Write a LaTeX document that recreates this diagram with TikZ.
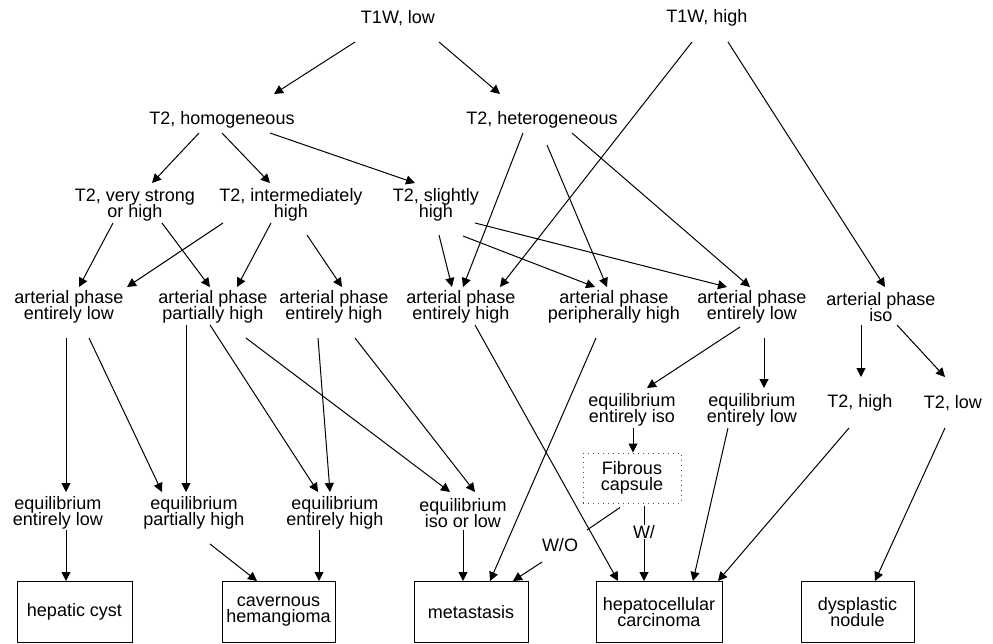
\documentclass[tikz,border=0pt]{standalone}
\usepackage{fontspec}
\setmainfont{Liberation Sans}
\usetikzlibrary{arrows.meta,calc}
\newcommand\lblfont{\fontsize{9}{8}\selectfont\lineskiplimit=-10pt\relax}
\tikzset{
  >={Triangle[length=4.5pt,width=4.5pt]},
  lbl/.style={align=center,inner sep=0pt,font=\lblfont},
  obox/.style={lbl,draw,line width=0.5pt,minimum height=30.5pt},
  cbox/.style={lbl,draw=black!70,dotted,line width=0.5pt,minimum width=49pt,minimum height=25pt},
  arr/.style={->,line width=0.5pt},
  lnk/.style={line width=0.5pt},
}
\begin{document}
\begin{tikzpicture}[x=0.5pt,y=-0.5pt]
  \useasboundingbox (0,0) rectangle (993,644);
  % T1W and T2
  \node[lbl] (t1low)  at (398,18)  {T1W, low};
  \node[lbl] (t1high) at (707,18)  {T1W, high};
  \node[lbl] (homo)   at (222,120) {T2, homogeneous};
  \node[lbl] (hetero) at (542,120) {T2, heterogeneous};
  \node[lbl] (vstrong) at (135,205) {T2, very strong\\or high};
  \node[lbl] (inter)   at (291,205) {T2, intermediately\\high};
  \node[lbl] (slight)  at (436,205) {T2, slightly\\high};
  % arterial phase
  \node[lbl] (aLow)   at (69,307)  {arterial phase\\entirely low};
  \node[lbl] (aPart)  at (213,307) {arterial phase\\partially high};
  \node[lbl] (aHigh)  at (334,307) {arterial phase\\entirely high};
  \node[lbl] (aHighB) at (461,307) {arterial phase\\entirely high};
  \node[lbl] (aPeri)  at (614,307) {arterial phase\\peripherally high};
  \node[lbl] (aLowB)  at (752,307) {arterial phase\\entirely low};
  \node[lbl] (aIso)   at (881,307) {arterial phase\\iso};
  % equilibrium
  \node[lbl] (eIso)   at (632,410) {equilibrium\\entirely iso};
  \node[lbl] (eLowB)  at (752,410) {equilibrium\\entirely low};
  \node[lbl] (t2high) at (860,403) {T2, high};
  \node[lbl] (t2low)  at (953,403) {T2, low};
  \node[cbox] (fib)   at (632,478) {Fibrous\\capsule};
  \node[lbl] (eLow)    at (58,513)  {equilibrium\\entirely low};
  \node[lbl] (ePart)   at (194,513) {equilibrium\\partially high};
  \node[lbl] (eHigh)   at (335,513) {equilibrium\\entirely high};
  \node[lbl] (eIsoLow) at (463,513) {equilibrium\\iso or low};
  \node[lbl] (wo) at (560,545) {W/O};
  \node[lbl] (w)  at (644,532) {W/};
  % diagnoses
  \node[obox,minimum width=57.5pt] (cyst) at (74.5,612)  {hepatic cyst};
  \node[obox,minimum width=56.5pt] (cav)  at (278.5,612) {cavernous\\hemangioma};
  \node[obox,minimum width=57pt]   (meta) at (471,612)   {metastasis};
  \node[obox,minimum width=63pt]   (hcc)  at (659,612)   {hepatocellular\\carcinoma};
  \node[obox,minimum width=56.5pt] (dys)  at (857.5,612) {dysplastic\\nodule};

  \draw[arr] ($(t1low)+(-43,24)$) -- ($(homo)+(52,-26)$);
  \draw[arr] ($(t1low)+(41,24)$) -- ($(hetero)+(-42,-26)$);
  \draw[arr] ($(t1high)+(-15,24)$) -- ($(aHighB)+(39,-20)$);
  \draw[arr] ($(t1high)+(21,24)$) -- ($(aIso)+(4,-20)$);
  \draw[arr] ($(homo)+(-23,13)$) -- ($(vstrong)+(17,-22)$);
  \draw[arr] ($(homo)+(0,13)$) -- ($(inter)+(-21,-22)$);
  \draw[arr] ($(homo)+(48,13)$) -- ($(slight)+(-21,-22)$);
  \draw[arr] ($(hetero)+(-19,13)$) -- ($(aHighB)+(2,-20)$);
  \draw[arr] ($(hetero)+(5,25)$) -- ($(aPeri)+(-7,-20)$);
  \draw[arr] ($(hetero)+(30,13)$) -- ($(aLowB)+(-2,-20)$);
  \draw[arr] ($(vstrong)+(-22,18)$) -- ($(aLow)+(10,-20)$);
  \draw[arr] ($(vstrong)+(27,18)$) -- ($(aPart)+(-3,-20)$);
  \draw[arr] ($(inter)+(-68,18)$) -- ($(aLow)+(58,-20)$);
  \draw[arr] ($(inter)+(-20,18)$) -- ($(aPart)+(24,-20)$);
  \draw[arr] ($(inter)+(16,30)$) -- ($(aHigh)+(8,-20)$);
  \draw[arr] ($(slight)+(3,30)$) -- ($(aHighB)+(-9,-20)$);
  \draw[arr] ($(slight)+(27,31)$) -- ($(aPeri)+(-19,-20)$);
  \draw[arr] ($(slight)+(39,18)$) -- ($(aLowB)+(-25,-20)$);

  \draw[arr] ($(aLow)+(-3,31)$) -- ($(eLow)+(8,-21)$);
  \draw[arr] ($(aLow)+(20,31)$) -- ($(ePart)+(-32,-21)$);
  \draw[arr] ($(aPart)+(-27,18)$) -- ($(ePart)+(-8,-21)$);
  \draw[arr] ($(aPart)+(-3,18)$) -- ($(eHigh)+(-17,-21)$);
  \draw[arr] ($(aPart)+(33,31)$) -- ($(eIsoLow)+(-13,-21)$);
  \draw[arr] ($(aHigh)+(-16,31)$) -- ($(eHigh)+(-5,-21)$);
  \draw[arr] ($(aHigh)+(21,31)$) -- ($(eIsoLow)+(12,-21)$);
  \draw[arr] ($(aHighB)+(14,18)$) -- ($(hcc.north)+(-41,0)$);
  \draw[arr] ($(aPeri)+(-18,31)$) -- ($(meta.north)+(19,0)$);
  \draw[arr] ($(aLowB)+(-12,20)$) -- ($(eIso)+(15,-22)$);
  \draw[arr] ($(aLowB)+(12,31)$) -- ($(eLowB)+(12,-22)$);
  \draw[arr] ($(aIso)+(-20,18)$) -- ($(t2high)+(1,-26)$);
  \draw[arr] ($(aIso)+(16,18)$) -- ($(t2low)+(-8,-26)$);

  \draw[arr] ($(eIso)+(1,18)$) -- ($(fib.north)+(1,0)$);
  \draw[lnk] ($(fib.south)+(12,2)$) -- (w.north);
  \draw[arr] (w.south) -- ($(hcc.north)+(-15,0)$);
  \draw[lnk] ($(fib.south)+(-12,4)$) -- ($(wo)+(27,-15)$);
  \draw[arr] ($(wo)+(-18,17)$) -- ($(meta.north)+(42,0)$);
  \draw[arr] ($(eLowB)+(-24,18)$) -- ($(hcc.north)+(34,0)$);
  \draw[arr] ($(t2high)+(-11,25)$) -- ($(hcc.north)+(59,0)$);
  \draw[arr] ($(t2low)+(-8,25)$) -- ($(dys.north)+(17.5,0)$);

  \draw[arr] ($(eLow)+(8,17)$) -- ($(cyst.north)+(-8.5,0)$);
  \draw[arr] ($(ePart)+(16,31)$) -- ($(cav.north)+(-21.5,0)$);
  \draw[arr] ($(eHigh)+(-16,17)$) -- ($(cav.north)+(40.5,0)$);
  \draw[arr] ($(eIsoLow)+(0,17)$) -- ($(meta.north)+(-8,0)$);
\end{tikzpicture}
\end{document}
